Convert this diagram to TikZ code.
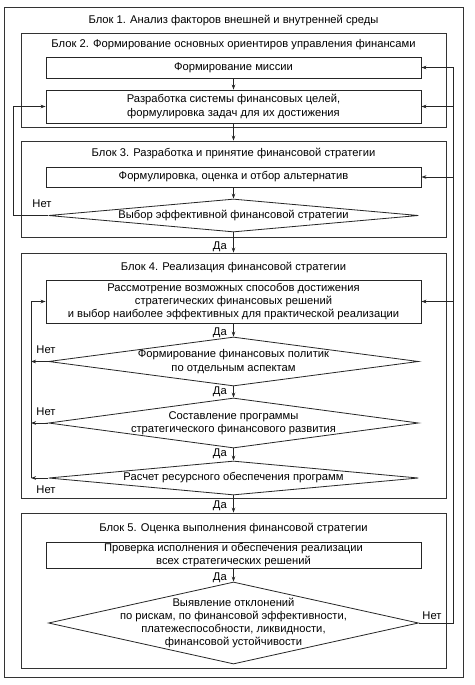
\documentclass[tikz,border=0pt]{standalone}
\usepackage{fontspec}
\setmainfont{Liberation Sans}
\usetikzlibrary{shapes.geometric,arrows.meta}
\begin{document}
\begin{tikzpicture}[x=1pt,y=-1pt,
  every node/.style={font=\fontsize{11.2}{13.2}\selectfont, text=black},
  frame/.style={draw=black!80, line width=0.8pt, inner sep=0pt},
  box/.style={draw=black!85, line width=0.9pt, inner sep=0pt, minimum width=375pt, align=center},
  dia/.style={draw=black!85, line width=0.8pt, diamond, inner sep=0pt, minimum width=370pt},
  txt/.style={align=center, inner sep=0pt},
  ttl/.style={inner sep=0pt},
  lbl/.style={inner sep=0pt},
  ln/.style={draw=black!85, line width=0.8pt},
  arr/.style={ln, -{Stealth[length=5pt,width=3.6pt]}}
]
\useasboundingbox (0,0) rectangle (474,685);
\fill[white] (0,0) rectangle (474,685);

% blocks
\node[frame, minimum width=459pt, minimum height=670pt] (b1) at (233.5,342) {};
\node[ttl] (t1) at (233.5,21) {Блок 1. Анализ факторов внешней и внутренней среды};
\node[frame, minimum width=425pt, minimum height=94pt] (b2) at (233.5,80) {};
\node[ttl] (t2) at (233.5,45) {Блок 2. Формирование основных ориентиров управления финансами};
\node[frame, minimum width=425pt, minimum height=96pt] (b3) at (233.5,189) {};
\node[ttl] (t3) at (233.5,153.5) {Блок 3. Разработка и принятие финансовой стратегии};
\node[frame, minimum width=425pt, minimum height=245pt] (b4) at (233.5,375.5) {};
\node[ttl] (t4) at (233.5,267.5) {Блок 4. Реализация финансовой стратегии};
\node[frame, minimum width=425pt, minimum height=155pt] (b5) at (233.5,590.5) {};
\node[ttl] (t5) at (233.5,528.5) {Блок 5. Оценка выполнения финансовой стратегии};

% boxes
\node[box, minimum height=21pt] (mission) at (233.5,67.5) {Формирование миссии};
\node[box, minimum height=33pt] (razr) at (233.5,106.5) {Разработка системы финансовых целей,\\формулировка задач для их достижения};
\node[box, minimum height=20pt] (formul) at (233.5,177) {Формулировка, оценка и отбор альтернатив};
\node[dia, minimum height=33pt] (dSel) at (233.5,215.5) {};
\node[txt] (dSelt) at (233.5,215.5) {Выбор эффективной финансовой стратегии};

\node[box, minimum height=43pt] (rassm) at (233.5,301.5) {Рассмотрение возможных способов достижения\\стратегических финансовых решений\\и выбор наиболее эффективных для практической реализации};
\node[dia, minimum height=49pt] (dA) at (233.5,361.5) {};
\node[txt] (dAt) at (233.5,361.5) {Формирование финансовых политик\\по отдельным аспектам};
\node[dia, minimum height=50pt] (dB) at (233.5,423) {};
\node[txt] (dBt) at (233.5,423) {Составление программы\\стратегического финансового развития};
\node[dia, minimum height=34pt] (dC) at (233.5,478) {};
\node[txt] (dCt) at (233.5,478) {Расчет ресурсного обеспечения программ};

\node[box, minimum height=26pt] (prov) at (233.5,555) {Проверка исполнения и обеспечения реализации\\всех стратегических решений};
\node[dia, minimum height=82pt] (dD) at (233.5,623) {};
\node[txt] (dDt) at (233.5,623) {Выявление отклонений\\по рискам, по финансовой эффективности,\\платежеспособности, ликвидности,\\финансовой устойчивости};

% vertical connectors
\draw[arr] (mission) -- (razr);
\draw[arr] (razr.south) -- (b3.north);
\draw[arr] (formul) -- (dSel.north);
\draw[arr] (dSel.south) -- (b4.north);
\node[lbl, anchor=east] (da1) at (227,247) {Да};
\draw[arr] (rassm) -- (dA.north);
\node[lbl, anchor=east] (da2) at (227,333) {Да};
\draw[arr] (dA.south) -- (dB.north);
\node[lbl, anchor=east] (da3) at (227,392) {Да};
\draw[arr] (dB.south) -- (dC.north);
\node[lbl, anchor=east] (da4) at (227,454) {Да};
\draw[arr] (dC.south) -- (b5.north);
\node[lbl, anchor=east] (da5) at (227,506) {Да};
\draw[arr] (prov) -- (dD.north);
\node[lbl, anchor=east] (da6) at (227,578) {Да};

% left outer feedback
\coordinate (L1) at (13,0);
\draw[arr] (dSel.west) -- (L1 |- dSel.west) -- (L1 |- razr.west) -- (razr.west);
\node[lbl] (n1) at (42,204) {Нет};

% inner left feedback
\coordinate (L2) at (31,0);
\draw[arr] (dA.west) -- (L2 |- dA.west);
\draw[arr] (dB.west) -- (L2 |- dB.west);
\draw[arr] (dC.west) -- (L2 |- dC.west);
\draw[arr] (L2 |- dC.west) -- (L2 |- rassm.west) -- (rassm.west);
\node[lbl] (n2) at (46,349.5) {Нет};
\node[lbl] (n3) at (46,411.5) {Нет};
\node[lbl] (n4) at (46,490) {Нет};

% right feedback
\coordinate (R) at (453,0);
\draw[ln] (dD.east) -- (R |- dD.east) -- (R |- mission.east);
\draw[arr] (R |- mission.east) -- (mission.east);
\draw[arr] (R |- razr.west) -- (razr.east);
\draw[arr] (R |- formul.east) -- (formul.east);
\draw[arr] (R |- rassm.east) -- (rassm.east);
\node[lbl] (n5) at (432,615.5) {Нет};
\end{tikzpicture}
\end{document}
